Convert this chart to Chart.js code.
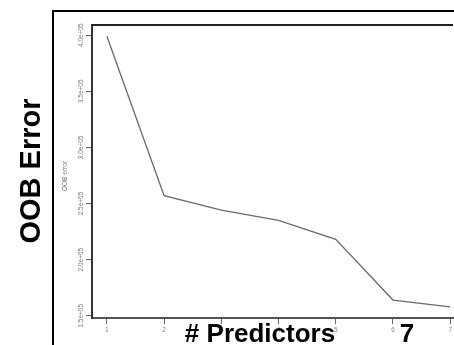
<!DOCTYPE html>
<html>
<head>
<meta charset="utf-8">
<script src="https://cdn.jsdelivr.net/npm/chart.js@4.4.1/dist/chart.umd.min.js"></script>
<style>
  html, body { margin: 0; padding: 0; background: #fff; }
  #wrap { width: 454px; height: 345px; }
</style>
</head>
<body>
<div id="wrap"><canvas id="myChart" width="454" height="345"></canvas></div>
<script>
// number of predictors tried at each split vs. out-of-bag error
const predictors = [1, 2, 3, 4, 5, 6, 7];
const oobError = [399000, 257000, 244000, 235000, 218000, 164000, 158000];
const yTicks = [150000, 200000, 250000, 300000, 350000, 400000];
const yTickLabels = ['1.5e+05', '2.0e+05', '2.5e+05', '3.0e+05', '3.5e+05', '4.0e+05'];

window.addEventListener('load', setup);

// frames and the big slide labels around the R plot
const slideDecor = {
    id: 'slideDecor',
    afterDraw(chart) {
        const ctx = chart.ctx;
        const area = chart.chartArea;
        const y = chart.scales.y;
        ctx.save();
        // outer frame
        ctx.strokeStyle = '#000';
        ctx.lineWidth = 2;
        ctx.beginPath();
        ctx.moveTo(53, 345);
        ctx.lineTo(53, 11);
        ctx.lineTo(454, 11);
        ctx.stroke();
        // top of plot box
        ctx.strokeStyle = '#222';
        ctx.lineWidth = 2;
        ctx.beginPath();
        ctx.moveTo(area.left, area.top);
        ctx.lineTo(area.right, area.top);
        ctx.stroke();

        // rotated y tick labels, R style
        ctx.fillStyle = '#777';
        ctx.font = '6.5px "Liberation Sans"';
        ctx.textAlign = 'center';
        ctx.textBaseline = 'middle';
        yTicks.forEach((v, i) => {
            const py = y.getPixelForValue(v);
            ctx.save();
            ctx.translate(81, py);
            ctx.rotate(-Math.PI / 2);
            ctx.fillText(yTickLabels[i], 0, 0);
            ctx.restore();
        });
        ctx.save();
        ctx.translate(65, 176);
        ctx.rotate(-Math.PI / 2);
        ctx.fillText('OOB error', 0, 0);
        ctx.restore();

        // big labels
        ctx.fillStyle = '#000';
        ctx.font = 'bold 29px "Liberation Sans"';
        ctx.save();
        ctx.translate(32, 171);
        ctx.rotate(-Math.PI / 2);
        ctx.fillText('OOB Error', 0, 0);
        ctx.restore();
        ctx.font = 'bold 26px "Liberation Sans"';
        ctx.textBaseline = 'alphabetic';
        ctx.fillText('# Predictors', 260, 342);
        ctx.fillText('7', 407, 342);
        ctx.restore();
    }
};

function setup() {
    const ctx = document.getElementById('myChart').getContext('2d');
    const points = predictors.map((p, i) => ({ x: p, y: oobError[i] }));
    new Chart(ctx, {
        type: 'line',
        data: {
            datasets: [{
                label: 'OOB error',
                data: points,
                borderColor: '#6a6a6a',
                borderWidth: 1.3,
                pointRadius: 0,
                fill: false,
                tension: 0
            }]
        },
        options: {
            responsive: false,
            animation: false,
            layout: { padding: { top: 25, right: 0, left: 0, bottom: 0 } },
            plugins: {
                legend: { display: false },
                tooltip: { enabled: false }
            },
            scales: {
                x: {
                    type: 'linear',
                    min: 0.74,
                    max: 7.05,
                    afterBuildTicks: s => { s.ticks = predictors.map(v => ({ value: v })); },
                    afterFit: s => { s.height = 27; },
                    grid: { drawOnChartArea: false, drawTicks: true, tickLength: 6, color: '#666' },
                    border: { display: true, color: '#555', width: 2 },
                    ticks: {
                        color: '#888',
                        font: { size: 6.5, family: 'Liberation Sans' },
                        padding: 2,
                        maxRotation: 0,
                        callback: v => String(v)
                    }
                },
                y: {
                    type: 'linear',
                    min: 148000,
                    max: 409000,
                    afterBuildTicks: s => { s.ticks = yTicks.map(v => ({ value: v })); },
                    afterFit: s => { s.width = 92; },
                    grid: { drawOnChartArea: false, drawTicks: true, tickLength: 6, color: '#666' },
                    border: { display: true, color: '#333', width: 2 },
                    ticks: { display: false }
                }
            }
        },
        plugins: [slideDecor]
    });
}
</script>
</body>
</html>
